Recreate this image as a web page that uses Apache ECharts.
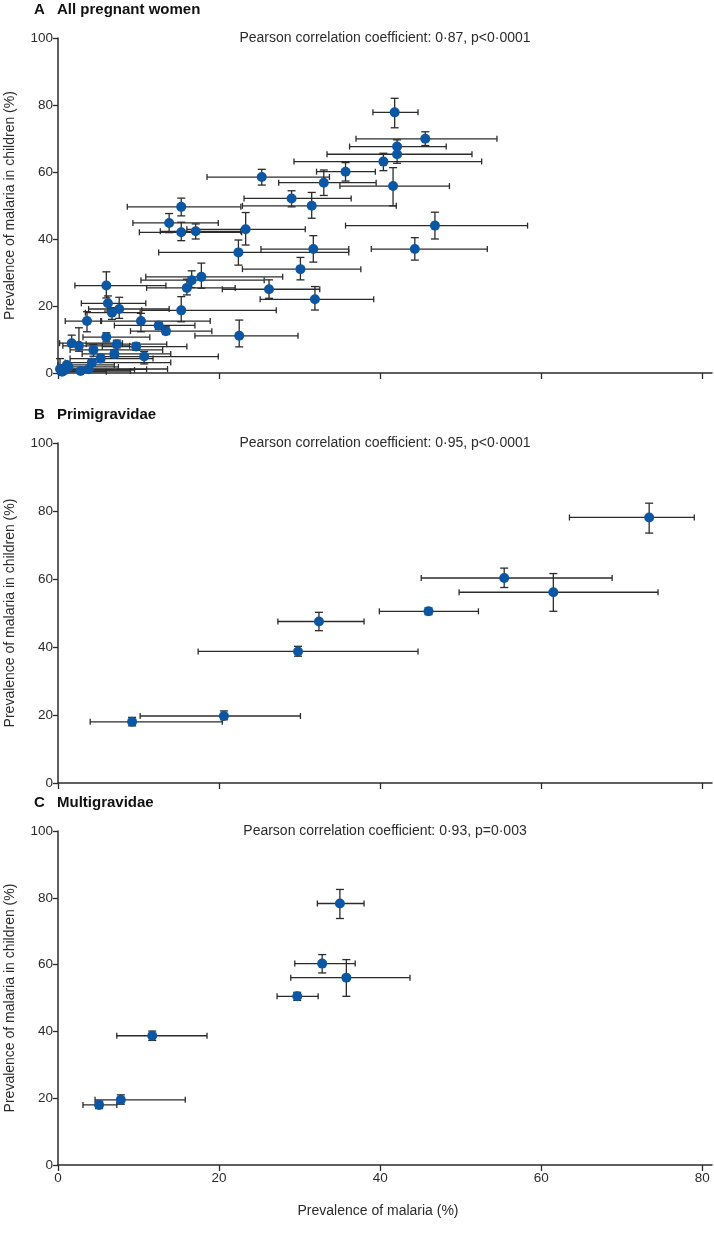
<!DOCTYPE html>
<html><head><meta charset="utf-8">
<script src="https://cdn.jsdelivr.net/npm/echarts@6/dist/echarts.min.js"></script>
<style>html,body{margin:0;padding:0;background:#fff}#c{width:714px;height:1243px}</style>
</head><body><div id="c"></div>
<script>
// ---- data: [x, y, xLow, xHigh, yLow, yHigh] ----
const xTicks = [0, 20, 40, 60, 80];
const yTicks = [0, 20, 40, 60, 80, 100];
const panelA = [
  [41.8, 77.8, 39.1, 44.7, 73.2, 82.0],
  [45.6, 69.9, 37.0, 54.5, 67.9, 72.0],
  [42.1, 67.6, 36.2, 48.2, 65.0, 69.6],
  [42.1, 65.3, 33.4, 51.4, 62.6, 67.5],
  [40.4, 63.1, 29.3, 52.6, 60.4, 65.6],
  [35.7, 60.1, 32.1, 39.4, 57.3, 62.8],
  [25.3, 58.5, 18.5, 33.7, 56.1, 60.8],
  [33.0, 56.8, 27.4, 39.5, 53.0, 60.6],
  [41.6, 55.8, 35.0, 48.6, 49.9, 61.3],
  [29.0, 52.1, 23.1, 36.4, 49.6, 54.4],
  [31.5, 49.9, 22.9, 42.0, 46.2, 53.9],
  [15.3, 49.6, 8.6, 22.7, 46.9, 52.2],
  [13.8, 44.8, 9.3, 19.9, 41.9, 47.6],
  [46.8, 44.0, 35.7, 58.3, 40.0, 48.0],
  [15.3, 42.0, 10.1, 22.8, 39.5, 45.0],
  [17.1, 42.3, 12.7, 22.7, 40.0, 44.5],
  [23.3, 42.9, 16.0, 30.7, 38.2, 47.9],
  [44.3, 37.0, 38.9, 53.3, 33.7, 40.4],
  [31.7, 37.0, 25.2, 36.1, 33.1, 41.0],
  [22.4, 36.0, 12.5, 36.1, 32.2, 39.7],
  [30.1, 31.0, 22.9, 37.6, 27.8, 34.5],
  [17.8, 28.7, 10.9, 27.9, 25.3, 32.8],
  [16.6, 27.7, 10.3, 25.6, 25.5, 30.5],
  [6.0, 26.1, 2.1, 13.4, 22.4, 30.2],
  [16.0, 25.4, 11.0, 22.0, 23.3, 28.0],
  [26.2, 25.0, 20.4, 32.5, 22.3, 27.8],
  [31.9, 22.0, 25.1, 39.2, 18.8, 25.8],
  [6.2, 20.8, 2.9, 10.9, 18.5, 23.0],
  [7.6, 19.1, 3.8, 13.8, 16.3, 22.6],
  [6.7, 18.0, 3.4, 10.2, 16.0, 19.5],
  [15.3, 18.7, 10.4, 27.1, 15.3, 22.8],
  [3.6, 15.5, 0.9, 5.3, 12.3, 18.3],
  [10.3, 15.5, 5.4, 18.9, 12.3, 17.8],
  [12.5, 14.2, 7.0, 17.0, 13.0, 15.2],
  [13.4, 12.5, 9.0, 19.1, 11.5, 13.8],
  [22.5, 11.1, 17.0, 29.8, 7.8, 15.8],
  [6.0, 10.7, 3.1, 11.4, 9.3, 12.0],
  [1.7, 8.9, 0.2, 8.0, 7.9, 11.3],
  [2.6, 8.1, 0.6, 8.9, 6.5, 13.5],
  [7.3, 8.6, 3.5, 13.5, 7.5, 9.8],
  [9.7, 7.9, 5.5, 16.0, 6.8, 9.0],
  [4.4, 6.9, 1.5, 13.0, 5.0, 8.5],
  [7.0, 5.7, 3.0, 14.0, 4.6, 6.8],
  [5.3, 4.3, 1.5, 11.8, 3.2, 5.4],
  [10.7, 4.9, 5.5, 19.9, 2.7, 6.4],
  [4.2, 3.1, 0.9, 14.0, 2.2, 4.0],
  [1.1, 2.4, 0.0, 7.0, 1.6, 3.2],
  [0.25, 1.2, 0.0, 13.6, 0.6, 4.3],
  [0.9, 0.9, 0.0, 9.5, 0.3, 1.5],
  [2.8, 0.6, 0.5, 9.0, 0.2, 1.0],
  [3.8, 1.1, 1.0, 11.0, 0.5, 1.7],
  [0.5, 0.4, 0.0, 6.0, 0.1, 0.8],
  [1.3, 1.8, 0.0, 7.5, 1.0, 2.6]
];
const panelB = [
  [73.4, 78.1, 63.5, 79.0, 73.5, 82.3],
  [55.4, 60.3, 45.1, 68.8, 57.5, 63.2],
  [61.5, 56.1, 49.8, 74.5, 50.5, 61.6],
  [46.0, 50.5, 39.9, 52.2, 49.5, 51.5],
  [32.4, 47.5, 27.3, 38.0, 44.8, 50.2],
  [29.8, 38.7, 17.4, 44.7, 37.3, 40.2],
  [20.6, 19.7, 10.2, 30.1, 18.6, 21.2],
  [9.2, 18.0, 4.0, 20.4, 16.8, 19.3]
];
const panelC = [
  [35.0, 78.3, 32.2, 38.0, 73.8, 82.5],
  [32.8, 60.3, 29.4, 36.9, 57.5, 63.0],
  [35.8, 56.1, 28.9, 43.7, 50.5, 61.5],
  [29.7, 50.5, 27.2, 32.3, 49.3, 51.7],
  [11.7, 38.7, 7.3, 18.5, 37.3, 40.1],
  [7.8, 19.5, 4.6, 15.8, 18.2, 21.0],
  [5.1, 18.0, 3.1, 7.3, 16.9, 19.1]
];
const panelLetters = ['A', 'B', 'C'];
const panelTitles = ['All pregnant women', 'Primigravidae', 'Multigravidae'];
const pearsonTexts = [
  'Pearson correlation coefficient: 0·87, p<0·0001',
  'Pearson correlation coefficient: 0·95, p<0·0001',
  'Pearson correlation coefficient: 0·93, p=0·003'
];
const xName = 'Prevalence of malaria (%)';
const yName = 'Prevalence of malaria in children (%)';

// ---- layout / style ----
const FONT = '"Liberation Sans", sans-serif';
const INK = '#2b2b2b';
const DOT = '#0b57a4';
const panels = [panelA, panelB, panelC];
const grids = [
  {left: 58, top: 38, width: 654, height: 335, outerBoundsMode: 'none', containLabel: false},
  {left: 58, top: 443, width: 654, height: 340, outerBoundsMode: 'none', containLabel: false},
  {left: 58, top: 831, width: 654, height: 334, outerBoundsMode: 'none', containLabel: false}
];

function errRender(params, api) {
  const x = api.value(0), y = api.value(1);
  const c = api.coord([x, y]);
  const xl = api.coord([api.value(2), y])[0];
  const xh = api.coord([api.value(3), y])[0];
  const yl = api.coord([x, api.value(4)])[1];
  const yh = api.coord([x, api.value(5)])[1];
  const st = {stroke: INK, lineWidth: 1.3, fill: null};
  const hc = 3, vc = 4;
  const L = (x1, y1, x2, y2) => ({type: 'line', shape: {x1, y1, x2, y2}, style: st});
  return {type: 'group', children: [
    L(xl, c[1], xh, c[1]),
    L(xl, c[1] - hc, xl, c[1] + hc),
    L(xh, c[1] - hc, xh, c[1] + hc),
    L(c[0], yl, c[0], yh),
    L(c[0] - vc, yl, c[0] + vc, yl),
    L(c[0] - vc, yh, c[0] + vc, yh)
  ]};
}

const xAxes = [], yAxes = [], series = [], graphics = [];
panels.forEach((data, i) => {
  const g = grids[i];
  xAxes.push({
    type: 'value', gridIndex: i, min: 0, max: 81.2, interval: 20,
    axisLine: {show: true, lineStyle: {color: INK, width: 1.5}},
    axisTick: {show: true, customValues: xTicks, length: 6, lineStyle: {color: INK, width: 1.3}},
    axisLabel: {show: i === 2, customValues: xTicks, color: INK, fontSize: 13.5, fontFamily: FONT, margin: 6},
    splitLine: {show: false}
  });
  yAxes.push({
    type: 'value', gridIndex: i, min: 0, max: 100, interval: 20,
    axisLine: {show: true, lineStyle: {color: INK, width: 1.5}},
    axisTick: {show: true, length: 5, lineStyle: {color: INK, width: 1.3}},
    axisLabel: {color: INK, fontSize: 13.5, fontFamily: FONT, margin: 5},
    splitLine: {show: false},
    name: yName, nameLocation: 'middle', nameGap: 41,
    nameTextStyle: {color: INK, fontSize: 14, fontFamily: FONT}
  });
  series.push({
    type: 'custom', xAxisIndex: i, yAxisIndex: i, renderItem: errRender,
    data: data, encode: {x: 0, y: 1}, z: 2, silent: true, clip: false
  });
  series.push({
    type: 'scatter', xAxisIndex: i, yAxisIndex: i, symbolSize: 10,
    itemStyle: {color: DOT, opacity: 1}, z: 3, silent: true,
    data: data.map(d => [d[0], d[1]])
  });
  graphics.push({type: 'text', left: 34, top: g.top - 38 + 2,
    style: {text: panelLetters[i], font: 'bold 15px ' + FONT, fill: '#111'}});
  graphics.push({type: 'text', left: 57, top: g.top - 38 + 2,
    style: {text: panelTitles[i], font: 'bold 15px ' + FONT, fill: '#111'}});
  graphics.push({type: 'text', x: 385, y: g.top,
    style: {text: pearsonTexts[i], font: '14px ' + FONT, fill: INK, align: 'center', verticalAlign: 'middle'}});
});
graphics.push({type: 'text', x: 378, y: 1211,
  style: {text: xName, font: '14px ' + FONT, fill: INK, align: 'center', verticalAlign: 'middle'}});

const chart = echarts.init(document.getElementById('c'), null, {renderer: 'canvas'});
chart.setOption({
  animation: false,
  backgroundColor: '#fff',
  grid: grids,
  xAxis: xAxes,
  yAxis: yAxes,
  series: series,
  graphic: graphics
});
</script></body></html>
